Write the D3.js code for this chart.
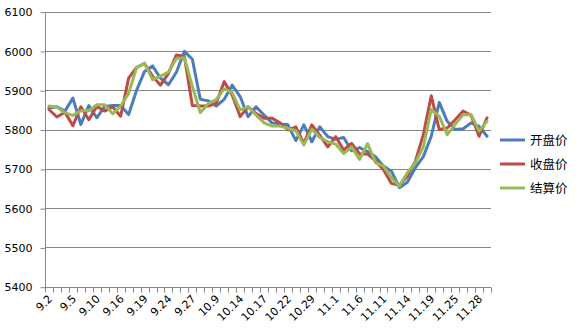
<!DOCTYPE html>
<html><head><meta charset="utf-8">
<script src="https://cdn.jsdelivr.net/npm/d3@7"></script>
<style>body{margin:0;background:#fff}</style>
</head><body>
<svg id="c" width="580" height="332"></svg>
<script>
const categories = ["9.2","9.3","9.4","9.5","9.6","9.9","9.10","9.11","9.12","9.16","9.17","9.18","9.19","9.20","9.23","9.24","9.25","9.26","9.27","9.30","10.8","10.9","10.10","10.11","10.14","10.15","10.16","10.17","10.18","10.21","10.22","10.23","10.28","10.29","10.30","10.31","11.1","11.4","11.5","11.6","11.7","11.8","11.11","11.12","11.13","11.14","11.15","11.18","11.19","11.20","11.21","11.25","11.26","11.27","11.28","11.29"];
const openPrice = [5855,5858,5847,5880,5813,5861,5830,5859,5861,5861,5838,5900,5948,5962,5931,5914,5946,5999,5979,5877,5873,5860,5877,5913,5884,5833,5858,5837,5817,5814,5812,5772,5812,5769,5807,5782,5775,5780,5746,5754,5744,5731,5707,5694,5652,5666,5703,5731,5783,5869,5821,5800,5802,5817,5808,5783];
const closePrice = [5851,5832,5844,5810,5858,5825,5859,5847,5858,5834,5931,5958,5968,5936,5913,5943,5990,5986,5861,5860,5860,5867,5922,5888,5833,5858,5841,5829,5829,5817,5799,5807,5765,5812,5786,5756,5782,5748,5765,5738,5738,5720,5698,5663,5658,5681,5719,5787,5886,5800,5804,5825,5847,5836,5783,5830];
const settlePrice = [5860,5857,5843,5836,5848,5848,5863,5863,5840,5860,5892,5958,5969,5927,5936,5946,5981,5983,5910,5843,5866,5876,5904,5894,5850,5858,5837,5817,5809,5809,5803,5797,5761,5801,5780,5769,5763,5739,5756,5724,5764,5716,5707,5677,5656,5690,5715,5756,5851,5834,5787,5813,5838,5838,5796,5821];
const seriesNames = ["开盘价","收盘价","结算价"];
const seriesColors = ["#4A7EBB","#BE4B48","#98B954"];
const yTicks = [5400,5500,5600,5700,5800,5900,6000,6100];
const labelEvery = 3;

const svg = d3.select("#c");
const L = 45, R = 491, T = 11.7, B = 286.7;
const idx = d3.range(categories.length);
const x = d3.scaleBand().domain(idx).range([L, R]).paddingInner(0).paddingOuter(0);
const y = d3.scaleLinear().domain([5400, 6100]).range([B, T]);
const grid = "#868686";
const font = "'DejaVu Sans', Verdana, sans-serif";

// gridlines
svg.append("g").selectAll("line").data(yTicks.slice(1)).join("line")
  .attr("x1", L).attr("x2", R).attr("y1", d => Math.round(y(d)) + 0.5).attr("y2", d => Math.round(y(d)) + 0.5)
  .attr("stroke", grid).attr("stroke-width", 1);

// y axis
const yAxis = d3.axisLeft(y).tickValues(yTicks).tickSize(5).tickPadding(8).tickFormat(d3.format("d"));
const gy = svg.append("g").attr("transform", `translate(${L + 0.5},0.5)`).call(yAxis);
gy.select(".domain").attr("stroke", grid).attr("d", `M0,${T}V${B}`);
gy.selectAll(".tick line").attr("stroke", grid);
gy.selectAll(".tick text").attr("font-family", font).attr("font-size", "11px").attr("fill", "#000");

// x axis: ticks at category boundaries
const gx = svg.append("g").attr("transform", `translate(0,${Math.round(B) + 0.5})`);
gx.append("line").attr("x1", L).attr("x2", R).attr("stroke", grid);
const bounds = d3.range(categories.length + 1).map(i => i < categories.length ? x(i) : R);
gx.selectAll("line.tk").data(bounds).join("line").attr("class", "tk")
  .attr("x1", d => Math.round(d) + 0.5).attr("x2", d => Math.round(d) + 0.5).attr("y1", 0).attr("y2", 5).attr("stroke", grid);
gx.selectAll("text").data(idx.filter(i => i % labelEvery === 0)).join("text")
  .attr("transform", i => `translate(${x(i) + x.bandwidth() / 2 + 4},${12}) rotate(-45)`)
  .attr("text-anchor", "end").attr("font-family", font).attr("font-size", "11px").attr("fill", "#000")
  .text(i => categories[i]);

// lines
const allSeries = [openPrice, closePrice, settlePrice];
const line = d3.line().x((d, i) => x(i) + x.bandwidth() / 2).y(d => y(d));
allSeries.forEach((s, k) => {
  svg.append("path").datum(s).attr("d", line).attr("fill", "none")
    .attr("stroke", seriesColors[k]).attr("stroke-width", 3).attr("stroke-linejoin", "round").attr("stroke-linecap", "round");
});

// legend
const ly = [140, 164, 188];
seriesNames.forEach((n, k) => {
  svg.append("line").attr("x1", 500).attr("x2", 525).attr("y1", ly[k]).attr("y2", ly[k])
    .attr("stroke", seriesColors[k]).attr("stroke-width", 3);
  svg.append("text").attr("x", 530).attr("y", ly[k]).attr("dy", "0.36em")
    .attr("font-family", "'Noto Sans CJK SC', sans-serif").attr("font-size", "12.5px").attr("fill", "#000").text(n);
});
</script>
</body></html>
